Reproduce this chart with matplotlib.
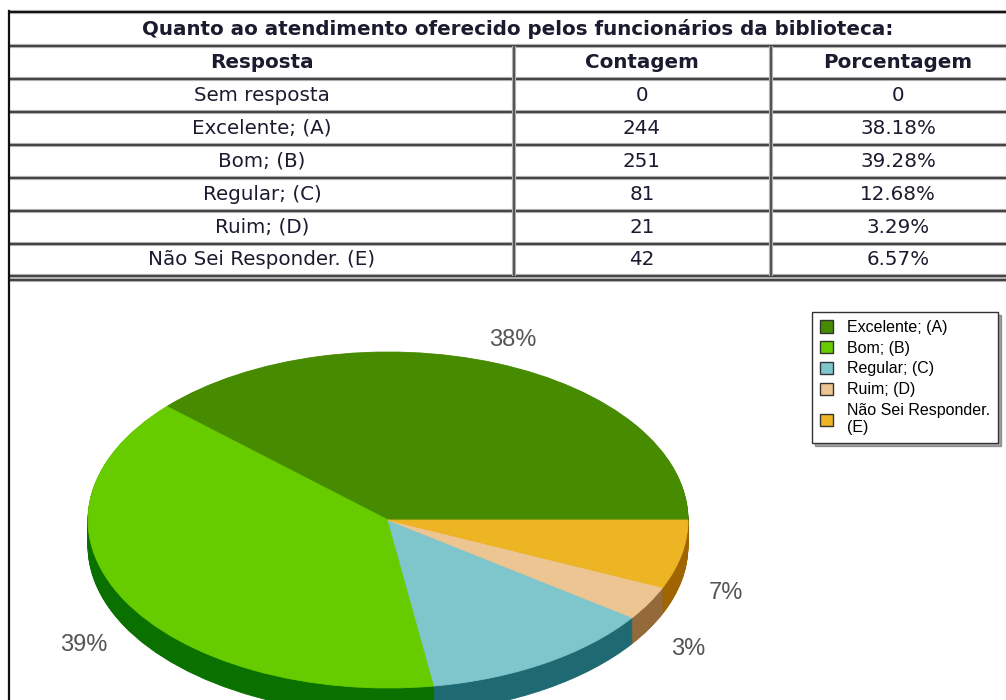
import matplotlib
matplotlib.use('Agg')
import matplotlib.pyplot as plt
from matplotlib.patches import Patch

# dados da tabela
titulo = 'Quanto ao atendimento oferecido pelos funcionários da biblioteca:'
cabecalho = ['Resposta', 'Contagem', 'Porcentagem']
respostas = ['Sem resposta', 'Excelente; (A)', 'Bom; (B)', 'Regular; (C)',
             'Ruim; (D)', 'Não Sei Responder. (E)']
contagem = ['0', '244', '251', '81', '21', '42']
porcentagem = ['0', '38.18%', '39.28%', '12.68%', '3.29%', '6.57%']

# dados do grafico (o rotulo de Regular fica fora da imagem no original)
fatias = ['Excelente; (A)', 'Bom; (B)', 'Regular; (C)', 'Ruim; (D)',
          'Não Sei Responder.\n(E)']
valores = [244, 251, 81, 21, 42]
rotulos = ['38%', '39%', '', '3%', '7%']
cores = ['#478b00', '#66cc00', '#7ec5cc', '#ecc592', '#edb424']
cores_lado = ['#2f5e00', '#0a7000', '#1f6a72', '#956a3a', '#a06400']

fig = plt.figure(figsize=(10.06, 7), dpi=100)

# ---- grafico de pizza "3D" ----
W, H = 1006, 700
cx, cy, rx, ry = 388, 180, 300, 168   # centro e raios em pixels (y a partir de baixo)
ax = fig.add_axes([10 / W, 0, 996 / W, 420 / H])
prof = 26 / ry
n = 30
for k in range(n, 0, -1):
    dz = prof * k / n
    w, _ = ax.pie(valores, colors=cores_lado, startangle=0, counterclock=True,
                  center=(0, -dz))
    for p in w:
        p.set_edgecolor(p.get_facecolor())
        p.set_linewidth(0.6)
w, textos = ax.pie(valores, colors=cores, startangle=0, counterclock=True,
                   labels=rotulos, labeldistance=1.15,
                   textprops=dict(fontsize=17, color='#555555',
                                  family='Liberation Sans'))
for p in w:
    p.set_edgecolor(p.get_facecolor())
    p.set_linewidth(0.6)
for t in textos:
    x, y = t.get_position()
    if y < 0:
        t.set_position((x, y - 0.2))
    t.set_ha('center')
    t.set_va('center')
ax.set_aspect('auto')
ax.set_xlim((10 - cx) / rx, (W - cx) / rx)
ax.set_ylim((0 - cy) / ry, (420 - cy) / ry)
ax.axis('off')

handles = [Patch(facecolor=c, edgecolor='#333333', linewidth=1) for c in cores]
fig.legend(handles, fatias, loc='upper left',
           bbox_to_anchor=(812 / W, 1 - 312 / H),
           prop=dict(family='Liberation Sans', size=11.5),
           frameon=True, fancybox=False, shadow=True, edgecolor='#333333',
           handlelength=0.8, handleheight=0.8, handletextpad=0.9,
           labelspacing=0.36, borderpad=0.5, borderaxespad=0)

# ---- tabela ----
t = fig.add_axes([0, 0, 1, 1])
t.set_xlim(0, W)
t.set_ylim(H, 0)
t.axis('off')

esq, dir_ = 9, 1030
col_x = [514, 771]
col_c = [262, 642, 898]
y_topo, y_tit, y_cab = 11.5, 46, 79
passo = 32.9
cor_txt = '#1b1b2f'
fs = 14.3


def linha_h(y, x0=esq, x1=dir_, cor='#444444'):
    t.plot([x0, x1], [y, y], color='#b5b5b5', lw=3.0, solid_capstyle='butt')
    t.plot([x0, x1], [y, y], color=cor, lw=1.5, solid_capstyle='butt')


def linha_v(x, y0, y1, cor='#555555'):
    t.plot([x, x], [y0, y1], color='#b5b5b5', lw=3.0, solid_capstyle='butt')
    t.plot([x, x], [y0, y1], color=cor, lw=1.5, solid_capstyle='butt')


y_fim = y_cab + passo * len(respostas)
linha_h(y_topo, cor='#111111')
linha_h(y_tit)
linha_h(y_cab)
for i in range(1, len(respostas)):
    linha_h(y_cab + passo * i)
linha_h(y_fim)
linha_h(y_fim + 3.5)
for x in col_x:
    linha_v(x, y_tit, y_fim)
t.plot([esq, esq], [y_topo - 1, H], color='#111111', lw=1.6)

t.text((esq + 1006 + 20) / 2, (y_topo + y_tit) / 2, titulo, ha='center',
       va='center', fontsize=fs, fontweight='bold', color=cor_txt,
       family='DejaVu Sans')
for j, nome in enumerate(cabecalho):
    t.text(col_c[j], (y_tit + y_cab) / 2, nome, ha='center', va='center',
           fontsize=fs, fontweight='bold', color=cor_txt, family='DejaVu Sans')
for i in range(len(respostas)):
    yc = y_cab + passo * (i + 0.5)
    for j, val in enumerate([respostas[i], contagem[i], porcentagem[i]]):
        t.text(col_c[j], yc, val, ha='center', va='center', fontsize=fs,
               color=cor_txt, family='DejaVu Sans')

fig.savefig('out.png', dpi=100)
